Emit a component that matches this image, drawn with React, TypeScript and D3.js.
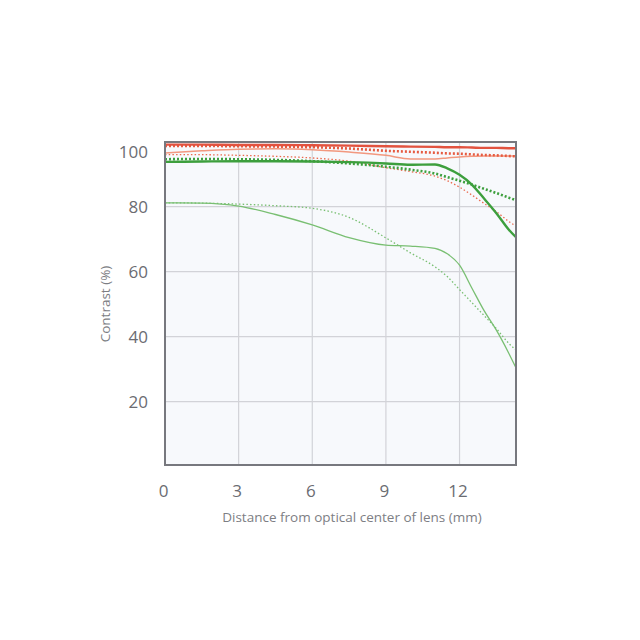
import * as d3 from "d3";

// distance from optical center (mm)
const distances = [0, 1.5, 3, 4.5, 6, 7.5, 9, 10, 11, 11.5, 12, 12.5, 13, 13.5, 14, 14.3];

// contrast (%) per series
const red10Sagittal = [99.1, 99.1, 99.0, 99.0, 98.9, 98.8, 98.6, 98.5, 98.4, 98.3, 98.3, 98.2, 98.1, 98.1, 98.0, 98.0];
const red10Meridional = [98.7, 98.7, 98.6, 98.5, 98.3, 97.9, 97.2, 96.9, 96.6, 96.4, 96.3, 96.1, 95.9, 95.8, 95.6, 95.5];
const red30Sagittal = [96.5, 97.2, 97.7, 97.8, 97.5, 96.8, 95.8, 94.7, 94.7, 95.0, 95.3, 95.5, 95.6, 95.6, 95.6, 95.6];
const red30Meridional = [96.0, 96.0, 95.8, 95.5, 95.0, 94.0, 92.0, 90.8, 89.4, 88.0, 86.0, 83.6, 81.0, 78.5, 75.5, 74.0];
const green10Sagittal = [93.8, 93.9, 94.0, 94.0, 93.9, 93.7, 93.3, 92.9, 93.0, 91.8, 89.8, 86.8, 82.5, 78.0, 73.0, 70.6];
const green10Meridional = [94.6, 94.7, 94.6, 94.4, 94.0, 93.3, 92.3, 91.4, 90.2, 89.1, 88.0, 86.8, 85.5, 84.2, 82.8, 82.0];
const green30Sagittal = [81.2, 81.1, 80.2, 77.6, 74.4, 70.5, 68.2, 67.9, 67.2, 65.5, 62.0, 55.0, 48.0, 42.0, 35.0, 30.4];
const green30Meridional = [81.2, 81.1, 80.8, 80.3, 79.5, 76.7, 70.4, 65.8, 61.5, 58.5, 54.5, 50.5, 46.5, 42.5, 38.0, 35.9];

const xTicks = [0, 3, 6, 9, 12];
const yTicks = [20, 40, 60, 80, 100];

const PLOT = { left: 165, right: 516, top: 142, bottom: 465 };

const series = [
  { values: green30Meridional, color: "#79bf72", width: 1.3, dash: "1.5,2.2" },
  { values: green30Sagittal, color: "#79bf72", width: 1.3, dash: null },
  { values: red30Meridional, color: "#ea6a4e", width: 1.3, dash: "1.5,2.2" },
  { values: red30Sagittal, color: "#f2987f", width: 1.5, dash: null },
  { values: green10Meridional, color: "#3d9f3d", width: 2.6, dash: "2,2" },
  { values: green10Sagittal, color: "#3d9f3d", width: 2.4, dash: null },
  { values: red10Meridional, color: "#e65a40", width: 2.6, dash: "2,2" },
  { values: red10Sagittal, color: "#e2523f", width: 2.4, dash: null },
];

export default function App() {
  const x = d3.scaleLinear().domain([0, 14.3]).range([PLOT.left, PLOT.right]);
  const y = d3.scaleLinear().domain([0, 100]).range([466.7, 141.7]);

  const line = d3
    .line<number>()
    .x((_, i) => x(distances[i]))
    .y((d) => y(d))
    .curve(d3.curveMonotoneX);

  return (
    <svg
      width={640}
      height={640}
      style={{ position: "absolute", left: 0, top: 0, background: "#fff" }}
      fontFamily="'Open Sans', sans-serif"
    >
      <rect
        x={PLOT.left}
        y={PLOT.top}
        width={PLOT.right - PLOT.left}
        height={PLOT.bottom - PLOT.top}
        fill="#f7f9fc"
      />
      {xTicks.slice(1).map((t) => (
        <line key={"gx" + t} x1={x(t)} x2={x(t)} y1={PLOT.top} y2={PLOT.bottom} stroke="#d2d3d8" strokeWidth={1.2} />
      ))}
      {yTicks.slice(0, -1).map((t) => (
        <line key={"gy" + t} x1={PLOT.left} x2={PLOT.right} y1={y(t)} y2={y(t)} stroke="#d2d3d8" strokeWidth={1.2} />
      ))}

      {series.map((s, i) => (
        <path
          key={i}
          d={line(s.values) ?? ""}
          fill="none"
          stroke={s.color}
          strokeWidth={s.width}
          strokeDasharray={s.dash ?? undefined}
        />
      ))}

      <rect
        x={PLOT.left}
        y={PLOT.top}
        width={PLOT.right - PLOT.left}
        height={PLOT.bottom - PLOT.top}
        fill="none"
        stroke="#77787e"
        strokeWidth={2}
      />

      {yTicks.map((t) => (
        <text
          key={"ly" + t}
          x={148}
          y={Math.max(y(t), PLOT.top + 9.5)}
          textAnchor="end"
          dominantBaseline="central"
          fontSize={17}
          fill="#6b6c72"
        >
          {t}
        </text>
      ))}
      {xTicks.map((t) => (
        <text
          key={"lx" + t}
          x={x(t) - 1.5}
          y={490}
          textAnchor="middle"
          dominantBaseline="central"
          fontSize={17}
          fill="#6b6c72"
        >
          {t}
        </text>
      ))}

      <text x={352} y={517} textAnchor="middle" dominantBaseline="central" fontSize={13.5} fill="#7d7e84">
        Distance from optical center of lens (mm)
      </text>
      <text
        transform={`translate(105,304) rotate(-90)`}
        textAnchor="middle"
        dominantBaseline="central"
        fontSize={13.5}
        fill="#7d7e84"
      >
        Contrast (%)
      </text>
    </svg>
  );
}
